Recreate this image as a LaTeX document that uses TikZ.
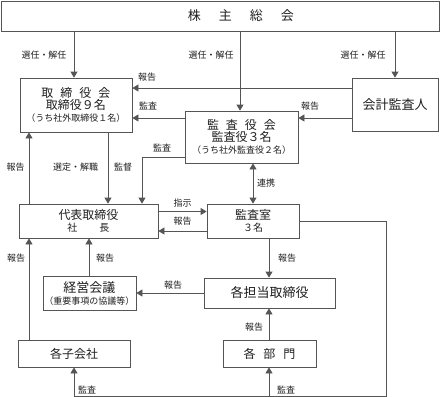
\documentclass[tikz,border=0pt]{standalone}
\usepackage{fontspec}
\newfontfamily\jpfont{Noto Sans CJK JP}
\usepackage{tikz}
\usetikzlibrary{positioning, arrows.meta}
\definecolor{LineGray}{RGB}{85, 85, 85}
\definecolor{TextDark}{RGB}{30, 30, 30}

\newcommand{\szL}{\fontsize{13}{16}\selectfont}
\newcommand{\szM}{\fontsize{12}{15}\selectfont}
\newcommand{\szS}{\fontsize{9}{15}\selectfont}

\tikzset{
    orgbox/.style={draw=LineGray, line width=0.8pt, align=center, inner sep=0pt, text=TextDark, font=\jpfont},
    arr/.style={draw=LineGray, line width=0.8pt, -{Triangle[length=6pt, width=7pt]}},
    dblarr/.style={draw=LineGray, line width=0.8pt, {Triangle[length=6pt, width=7pt]}-{Triangle[length=6pt, width=7pt]}},
    lbl/.style={font=\jpfont\fontsize{9}{10}\selectfont, text=TextDark, inner sep=0pt}
}

\begin{document}
\begin{tikzpicture}[x=1pt, y=-1pt]
    \useasboundingbox (0,0) rectangle (440,397);

    % Boxes
    \node[orgbox, minimum width=438pt, minimum height=30pt] (soukai) at (220,16)
        {\szL\hspace*{42pt}株\hspace{18pt}主\hspace{18pt}総\hspace{18pt}会};
    \node[orgbox, minimum width=112pt, minimum height=54pt] (torishimari) at (76,105)
        {\szM 取\hspace{7pt}締\hspace{7pt}役\hspace{7pt}会\\ \szM 取締役９名\\ \szS （うち社外取締役１名）};
    \node[orgbox, minimum width=86pt, minimum height=53pt] (kaikei) at (395,104.5) {\szL 会計監査人};
    \node[orgbox, minimum width=113pt, minimum height=52pt] (kansayaku) at (241.5,137)
        {\szM 監\hspace{7pt}査\hspace{7pt}役\hspace{7pt}会\\ \szM 監査役３名\\ \szS （うち社外監査役２名）};
    \node[orgbox, minimum width=139pt, minimum height=34pt] (daihyo) at (88.5,221)
        {\fontsize{12}{17}\selectfont 代表取締役\\ 社\hspace{22pt}長};
    \node[orgbox, minimum width=92pt, minimum height=34pt] (kansashitsu) at (253,221)
        {\fontsize{12}{17}\selectfont 監査室\\ ３名};
    \node[orgbox, minimum width=93pt, minimum height=34pt] (keiei) at (89.5,293)
        {\szL 経営会議\\ \szS （重要事項の協議等）};
    \node[orgbox, minimum width=131pt, minimum height=30pt] (tanto) at (269.5,293) {\szL 各担当取締役};
    \node[orgbox, minimum width=93pt, minimum height=27pt] (bumon) at (269.5,353.5)
        {\szM 各\hspace{8pt}部\hspace{8pt}門};
    \node[orgbox, minimum width=112pt, minimum height=27pt] (kogaisha) at (74,353.5) {\szM 各子会社};

    % Appointment from the shareholders
    \draw[arr] (74,0 |- soukai.south) -- (74,0 |- torishimari.north);
    \draw[arr] (240,0 |- soukai.south) -- (240,0 |- kansayaku.north);
    \draw[arr] (395,0 |- soukai.south) -- (395,0 |- kaikei.north);
    \node[lbl] (senin1) at (44,55) {選任・解任};
    \node[lbl] (senin2) at (211,55) {選任・解任};
    \node[lbl] (senin3) at (363,55) {選任・解任};

    % Auditor links
    \draw[arr] (kaikei.west |- 0,88) -- (torishimari.east |- 0,88);
    \draw[arr] (kaikei.west |- 0,118) -- (kansayaku.east |- 0,118);
    \draw[arr] (kansayaku.west |- 0,118) -- (torishimari.east |- 0,118);
    \draw[arr] (kansayaku.west |- 0,157) -| (142,0 |- daihyo.north);
    \draw[dblarr] (253,0 |- kansayaku.south) -- (253,0 |- kansashitsu.north);
    \node[lbl] (hokoku1) at (147,77) {報告};
    \node[lbl] (hokoku2) at (310,106) {報告};
    \node[lbl] (kansa1) at (148,106) {監査};
    \node[lbl] (kansa2) at (162,148) {監査};
    \node[lbl] (renkei) at (266,183) {連携};

    % Board and president
    \draw[arr] (108,0 |- torishimari.south) -- (108,0 |- daihyo.north);
    \draw[arr] (29,0 |- daihyo.north) -- (29,0 |- torishimari.south);
    \node[lbl] (sentei) at (75.5,167) {選定・解職};
    \node[lbl] (kantoku) at (123,167) {監督};
    \node[lbl] (hokoku3) at (15.5,167) {報告};

    % President and audit office
    \draw[arr] (daihyo.east |- 0,211.5) -- (kansashitsu.west |- 0,211.5);
    \draw[arr] (kansashitsu.west |- 0,231) -- (daihyo.east |- 0,231);
    \node[lbl] (shiji) at (182.5,203) {指示};
    \node[lbl] (hokoku4) at (182.5,221.5) {報告};

    % Reporting lines
    \draw[arr] (29,0 |- kogaisha.north) -- (29,0 |- daihyo.south);
    \draw[arr] (89,0 |- keiei.north) -- (89,0 |- daihyo.south);
    \draw[arr] (269,0 |- kansashitsu.south) -- (269,0 |- tanto.north);
    \draw[arr] (tanto.west |- 0,293) -- (keiei.east |- 0,293);
    \draw[arr] (269,0 |- bumon.north) -- (269,0 |- tanto.south);
    \node[lbl] (hokoku5) at (16,258) {報告};
    \node[lbl] (hokoku6) at (105,258) {報告};
    \node[lbl] (hokoku7) at (287,258) {報告};
    \node[lbl] (hokoku8) at (173,285.5) {報告};
    \node[lbl] (hokoku9) at (254,327) {報告};

    % Internal audit loop
    \coordinate (loopjoin) at (269,396);
    \draw[arr] (kansashitsu.east |- 0,221) -| (386,396) -| (74,0 |- kogaisha.south);
    \draw[arr] (loopjoin) -- (269,0 |- bumon.south);
    \node[lbl] (kansa3) at (87,389.5) {監査};
    \node[lbl] (kansa4) at (286,389.5) {監査};
\end{tikzpicture}
\end{document}
